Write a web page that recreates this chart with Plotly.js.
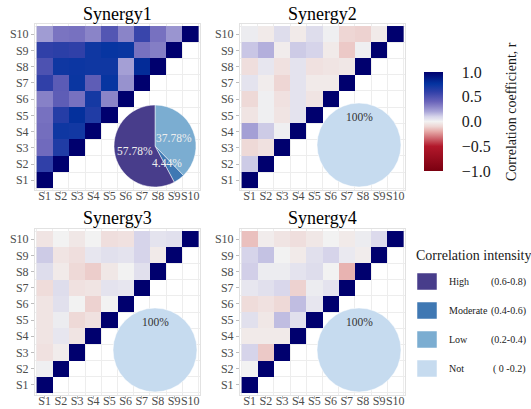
<!DOCTYPE html>
<html><head><meta charset="utf-8">
<script src="https://cdn.plot.ly/plotly-3.0.1.min.js"></script>
<style>html,body{margin:0;padding:0;background:#fff}</style>
</head><body><div id="chart" style="width:531px;height:409px"></div>
<script>
const W = 531, H = 409;
const labels = ['S1','S2','S3','S4','S5','S6','S7','S8','S9','S10'];
const titles = ['Synergy1','Synergy2','Synergy3','Synergy4'];

// Lower-triangle rows: row Sj holds values for columns S1..Sj
const syn1 = [
  [1],
  [0.60, 1],
  [0.38, 0.66, 1],
  [0.37, 0.72, 0.71, 1],
  [0.36, 0.64, 0.78, 0.66, 1],
  [0.31, 0.44, 0.36, 0.70, 0.30, 1],
  [0.60, 0.45, 0.74, 0.44, 0.75, 0.26, 1],
  [0.50, 0.72, 0.73, 0.72, 0.72, 0.22, 0.80, 1],
  [0.60, 0.62, 0.60, 0.72, 0.75, 0.74, 0.36, 0.32, 1],
  [0.23, 0.35, 0.36, 0.30, 0.48, 0.30, 0.57, 0.36, 0.25, 1]
];
const syn2 = [
  [1],
  [0.12, 1],
  [-0.09, -0.06, 1],
  [0.22, 0.12, 0.01, 1],
  [-0.05, 0.01, -0.05, 0.05, 1],
  [-0.09, 0.01, -0.06, 0.05, -0.05, 1],
  [0.05, -0.02, -0.10, 0.05, -0.03, -0.03, 1],
  [-0.07, 0.04, -0.06, 0.05, -0.06, -0.05, -0.04, 1],
  [0.13, 0.18, -0.02, 0.12, 0.10, -0.03, -0.13, 0.01, 1],
  [0.02, -0.03, 0.07, -0.03, 0.07, 0.01, -0.10, -0.11, -0.03, 1]
];
const syn3 = [
  [1],
  [0.01, 1],
  [-0.06, -0.02, 1],
  [-0.05, 0.04, -0.05, 1],
  [-0.05, 0.02, -0.09, -0.06, 1],
  [-0.05, 0.06, 0.00, -0.11, 0.00, 1],
  [-0.08, 0.07, -0.06, -0.05, 0.05, 0.04, 1],
  [0.07, -0.03, -0.09, -0.12, -0.04, 0.00, 0.06, 1],
  [0.12, -0.05, -0.07, 0.04, 0.06, 0.05, 0.10, -0.03, 1],
  [-0.05, 0.00, -0.04, 0.00, -0.07, -0.06, 0.10, 0.05, 0.06, 1]
];
const syn4 = [
  [1],
  [0.00, 1],
  [0.10, -0.13, 1],
  [-0.03, -0.03, -0.03, 1],
  [0.06, -0.04, 0.15, 0.06, 1],
  [-0.08, -0.06, -0.09, 0.15, 0.04, 1],
  [0.04, 0.06, 0.09, -0.11, 0.02, 0.05, 1],
  [0.11, 0.02, 0.02, 0.05, 0.07, 0.00, -0.18, 1],
  [0.10, 0.14, 0.00, -0.03, 0.06, 0.10, 0.03, -0.02, 1],
  [-0.15, -0.02, -0.05, -0.07, -0.04, 0.00, -0.03, 0.02, 0.08, 1]
];

// Pie (correlation intensity shares, %)
const intensityNames  = ['High', 'Moderate', 'Low', 'Not'];
const intensityRanges = ['(0.6-0.8)', '(0.4-0.6)', '(0.2-0.4)', '( 0 -0.2)'];
const intensityColors = ['#483D8B', '#3F78B3', '#7BADD1', '#C6DBEF'];
const pie1 = [57.78, 4.44, 37.78, 0];
const pie2 = [0, 0, 0, 100];
const pie3 = [0, 0, 0, 100];
const pie4 = [0, 0, 0, 100];

const corr = [syn1, syn2, syn3, syn4];
const pies = [pie1, pie2, pie3, pie4];

// Layout geometry (pixels)
const panelX = [[35, 200], [240, 405]];
const panelY = [[24.4, 190], [229.4, 394.6]];
const titleY = [14, 218];
const pieGeo = [ {cx:155, cy:146, r:41}, {cx:359, cy:145, r:42}, {cx:155, cy:350, r:42}, {cx:359, cy:350, r:42} ];

const serif = '"Liberation Serif", "Times New Roman", serif';
const colorscale = [
  [0.00, '#7a0010'],
  [0.25, '#b2182b'],
  [0.40, '#e6aaa8'],
  [0.45, '#eed6d4'],
  [0.50, '#f2f2f2'],
  [0.55, '#d6d4ea'],
  [0.60, '#aaa6d8'],
  [0.65, '#8a84c8'],
  [0.70, '#6a64ba'],
  [0.80, '#3040a8'],
  [0.88, '#0434a0'],
  [1.00, '#00006e']
];

const px2x = p => p / W;
const px2y = p => 1 - p / H;

const data = [];
const layout = {
  width: W, height: H,
  margin: {l:0, r:0, t:0, b:0},
  paper_bgcolor: '#ffffff', plot_bgcolor: '#ffffff',
  showlegend: false,
  font: {family: serif},
  annotations: [], shapes: []
};

const idx = labels.map((_, i) => i + 1);

corr.forEach((rows, k) => {
  const col = k % 2, row = Math.floor(k / 2);
  const n = k === 0 ? '' : String(k + 1);
  const z = idx.map((_, yi) => idx.map((_, xi) => (xi <= yi ? rows[yi][xi] : null)));
  const tr = {
    type: 'heatmap', x: idx, y: idx, z: z,
    zmin: -1, zmax: 1, colorscale: colorscale,
    xaxis: 'x' + n, yaxis: 'y' + n,
    hoverinfo: 'skip',
    showscale: k === 0
  };
  if (k === 0) {
    tr.colorbar = {
      x: px2x(424), xanchor: 'left', xpad: 0,
      y: px2y(121.5), yanchor: 'middle', ypad: 0,
      len: 99 / H, lenmode: 'fraction',
      thickness: 19, thicknessmode: 'pixels',
      outlinewidth: 0,
      tickvals: [-1, -0.5, 0, 0.5, 1], tickformat: '.1f',
      ticks: 'outside', ticklen: 16, tickcolor: 'rgba(0,0,0,0)',
      tickfont: {family: serif, size: 16, color: '#1a1a1a'}
    };
  }
  data.push(tr);

  const axBase = {
    range: [0.4, 10.6], tickmode: 'array', tickvals: idx, ticktext: labels,
    tickangle: 0,
    showgrid: false, zeroline: false, showline: true, mirror: true,
    linecolor: '#e2e2e2', linewidth: 1,
    ticks: 'outside', ticklen: 3, tickcolor: '#bdbdbd',
    tickfont: {family: serif, size: 12, color: '#4d4d4d'},
    minor: {tickmode: 'linear', tick0: 0.5, dtick: 1, showgrid: true, gridcolor: '#ededed', gridwidth: 1, ticks: ''},
    fixedrange: true
  };
  layout['xaxis' + n] = Object.assign({}, axBase, {
    domain: [px2x(panelX[col][0]), px2x(panelX[col][1])], anchor: 'y' + n,
    ticklabelstandoff: -8
  });
  layout['yaxis' + n] = Object.assign({}, axBase, {
    domain: [px2y(panelY[row][1]), px2y(panelY[row][0])], anchor: 'x' + n
  });

  layout.annotations.push({
    text: titles[k], xref: 'paper', yref: 'paper',
    x: px2x((panelX[col][0] + panelX[col][1]) / 2), y: px2y(titleY[row]),
    xanchor: 'center', yanchor: 'middle', showarrow: false,
    font: {family: serif, size: 18, color: '#000'}
  });

  // Pie: drawn clockwise from 12 o'clock as Low, Moderate, High, Not
  const vals = pies[k];
  const order = [2, 1, 0, 3].filter(i => vals[i] > 0);
  const g = pieGeo[k];
  data.push({
    type: 'pie', sort: false, direction: 'clockwise', rotation: 0,
    labels: order.map(i => intensityNames[i]), values: order.map(i => vals[i]),
    marker: {colors: order.map(i => intensityColors[i]), line: {color: '#ffffff', width: 0.5}},
    textinfo: 'none', hoverinfo: 'skip', showlegend: false,
    domain: {x: [px2x(g.cx - g.r), px2x(g.cx + g.r)], y: [px2y(g.cy + g.r), px2y(g.cy - g.r)]}
  });
  // Pie labels
  const total = order.reduce((s, i) => s + vals[i], 0);
  let cum = 0;
  order.forEach(i => {
    const frac = vals[i] / total;
    const mid = (cum + frac / 2) * 2 * Math.PI;
    cum += frac;
    const single = frac >= 0.999;
    const ang = single ? 0 : mid;
    const rr = single ? 0.66 * g.r : 0.5 * g.r;
    const lx = g.cx + rr * Math.sin(ang);
    const ly = g.cy - rr * Math.cos(ang);
    layout.annotations.push({
      text: vals[i].toFixed(single ? 0 : 2) + '%', xref: 'paper', yref: 'paper',
      x: px2x(lx), y: px2y(ly), xanchor: 'center', yanchor: 'middle', showarrow: false,
      font: {family: serif, size: 11.5, color: single ? '#333333' : '#eeeeee'}
    });
  });
});

// Colorbar title
layout.annotations.push({
  text: 'Correlation coefficient, r', xref: 'paper', yref: 'paper',
  x: px2x(512), y: px2y(112), textangle: -90, showarrow: false,
  xanchor: 'center', yanchor: 'middle',
  font: {family: serif, size: 14, color: '#1a1a1a'}
});

// Intensity legend
layout.annotations.push({
  text: 'Correlation intensity', xref: 'paper', yref: 'paper',
  x: px2x(414), y: px2y(255), xanchor: 'left', yanchor: 'middle', showarrow: false,
  font: {family: serif, size: 14, color: '#1a1a1a'}
});
intensityNames.forEach((nm, i) => {
  const yc = 281.5 + 29 * i;
  layout.shapes.push({
    type: 'rect', xref: 'paper', yref: 'paper',
    x0: px2x(417), x1: px2x(437), y0: px2y(yc - 8.5), y1: px2y(yc + 8.5),
    fillcolor: intensityColors[i], line: {color: '#ffffff', width: 0.5}
  });
  layout.annotations.push({
    text: nm, xref: 'paper', yref: 'paper', x: px2x(447), y: px2y(yc),
    xanchor: 'left', yanchor: 'middle', showarrow: false,
    font: {family: serif, size: 10, color: '#1a1a1a'}
  });
  layout.annotations.push({
    text: intensityRanges[i], xref: 'paper', yref: 'paper', x: px2x(528), y: px2y(yc),
    xanchor: 'right', yanchor: 'middle', showarrow: false,
    font: {family: serif, size: 10, color: '#1a1a1a'}
  });
});

Plotly.newPlot('chart', data, layout, {staticPlot: true, displayModeBar: false});
</script></body></html>
